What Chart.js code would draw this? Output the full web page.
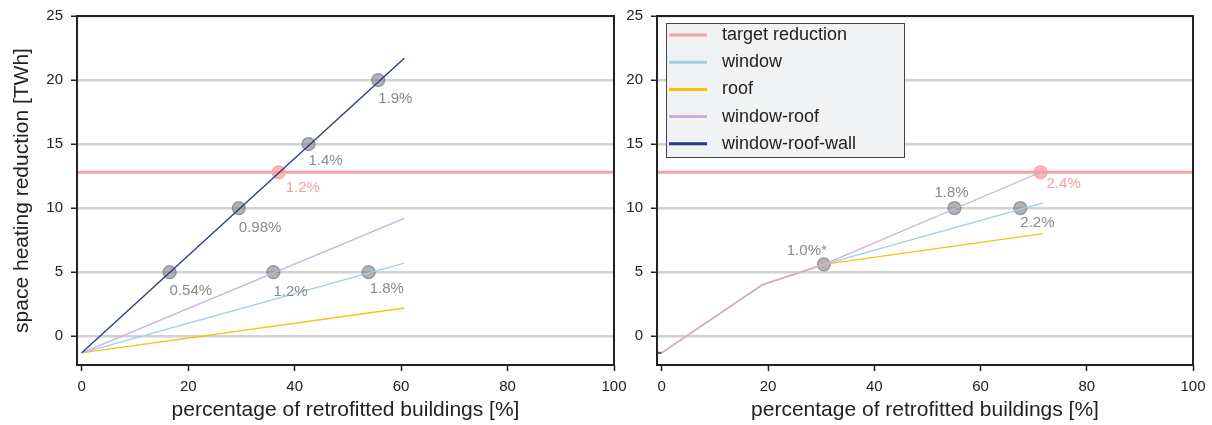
<!DOCTYPE html>
<html><head><meta charset="utf-8">
<script src="https://cdn.jsdelivr.net/npm/chart.js@4.4.0/dist/chart.umd.min.js"></script>
<style>
html,body{margin:0;padding:0;background:#fff;width:1212px;height:425px;overflow:hidden}
#c1{position:absolute;left:0;top:0}
#c2{position:absolute;left:620px;top:0}
</style></head><body>
<canvas id="c1" width="640" height="425"></canvas>
<canvas id="c2" width="592" height="425"></canvas>
<script>
// ---------- data ----------
const xTicks = [0, 20, 40, 60, 80, 100];
const yTicks = [0, 5, 10, 15, 20, 25];
const X_MIN = -0.9, X_MAX = 100;
const Y_MIN = -2.25, Y_MAX = 25;
const xTitle = 'percentage of retrofitted buildings [%]';
const yTitle = 'space heating reduction [TWh]';

const seriesNames = ['target reduction', 'window', 'roof', 'window-roof', 'window-roof-wall'];
const TARGET = 12.8;

// left panel lines
const leftX = [0, 60.6];
const leftWindow = [-1.3, 5.7];
const leftRoof = [-1.3, 2.2];
const leftWindowRoof = [-1.3, 9.2];
const leftWindowRoofWall = [-1.3, 21.7];

// left panel markers
const leftPtX = [16.5, 29.5, 42.6, 55.7, 36.0, 53.9];
const leftPtY = [5, 10, 15, 20, 5, 5];
const leftPtLabels = ['0.54%', '0.98%', '1.4%', '1.9%', '1.2%', '1.8%'];
const leftTargetPtX = [37.0];
const leftTargetPtY = [12.8];
const leftTargetLabels = ['1.2%'];

// right panel lines
const rightWindowX = [0, 18.9, 30.5, 71.8];
const rightWindow = [-1.3, 4.0, 5.6, 10.4];
const rightRoofX = [0, 18.9, 30.5, 71.8];
const rightRoof = [-1.3, 4.0, 5.6, 8.0];
const rightWindowRoofX = [0, 18.9, 30.5, 71.3];
const rightWindowRoof = [-1.3, 4.0, 5.6, 12.8];
const rightStubX = [-0.9, 0];
const rightStub = [-1.3, -1.3];

// right panel markers
const rightPtX = [30.5, 55.1, 67.5];
const rightPtY = [5.6, 10, 10];
const rightPtLabels = ['1.0%*', '1.8%', '2.2%'];
const rightTargetPtX = [71.3];
const rightTargetPtY = [12.8];
const rightTargetLabels = ['2.4%'];

// ---------- styles ----------
const FONT = '"Liberation Sans", Arial, sans-serif';
const colors = ['#f5a3a3', '#a3cde6', '#fdbf12', '#cbb0da', '#25368f'];
const SHARED = '#cdb2b6';
const GREY_TXT = '#8a8a8a';
const PINK_TXT = '#f4a0a0';
// label pixel offsets [dx, dy, align]
const leftPtOff = [[0,19,'left'],[0,20,'left'],[0,17,'left'],[0,19,'left'],[0,20,'left'],[1,17,'left']];
const leftTargetOff = [[7,16,'left']];
const rightPtOff = [[3,-14,'right'],[-3,-15,'center'],[0,15,'left']];
const rightTargetOff = [[6,12,'left']];

const pts = (xs, ys) => xs.map((x, i) => ({x, y: ys[i]}));

function lineDs(label, xs, ys, color, width, shared) {
  const ds = {label, data: pts(xs, ys), showLine: true, borderColor: color, backgroundColor: color,
    borderWidth: width, pointRadius: 0, pointHoverRadius: 0, fill: false, tension: 0};
  if (shared) ds.segment = {borderColor: c => c.p1DataIndex <= 2 ? SHARED : color};
  return ds;
}
function markerDs(xs, ys, fill, border) {
  return {label: '_m', data: pts(xs, ys), showLine: false, pointRadius: 6.5, pointHoverRadius: 6.5,
    backgroundColor: fill, borderColor: border, borderWidth: 1.2};
}

function scalesCfg(yWidth, showYTitle) {
  return {
    x: {type: 'linear', min: X_MIN, max: X_MAX,
      afterBuildTicks: s => { s.ticks = xTicks.map(v => ({value: v})); },
      afterFit: s => { s.height = 60; s.paddingLeft = 0; s.paddingRight = 0; },
      grid: {display: true, drawOnChartArea: false, drawTicks: true, tickLength: 6, tickColor: '#222', tickWidth: 1.5},
      border: {display: false},
      ticks: {color: '#222', font: {family: FONT, size: 15}, padding: 7, maxRotation: 0, autoSkip: false},
      title: {display: true, text: xTitle, color: '#222', font: {family: FONT, size: 21}, padding: {top: 4, bottom: 2}}
    },
    y: {type: 'linear', min: Y_MIN, max: Y_MAX,
      afterBuildTicks: s => { s.ticks = yTicks.map(v => ({value: v})); },
      afterFit: s => { s.width = yWidth; s.paddingTop = 0; s.paddingBottom = 0; },
      grid: {color: '#d2d2d2', lineWidth: 2.5, drawTicks: true, tickLength: 6, tickColor: '#222', tickWidth: 1.5},
      border: {display: false},
      ticks: {color: '#222', font: {family: FONT, size: 15}, padding: 8, autoSkip: false},
      title: {display: showYTitle, text: yTitle, color: '#222', font: {family: FONT, size: 21}, padding: {top: 10, bottom: 0}}
    }
  };
}

const framePlugin = {
  id: 'frame',
  afterDraw(chart) {
    const {ctx, chartArea: a} = chart;
    ctx.save();
    ctx.strokeStyle = '#222'; ctx.lineWidth = 2;
    ctx.strokeRect(a.left, a.top, a.right - a.left, a.bottom - a.top);
    ctx.restore();
  }
};
const labelPlugin = {
  id: 'lbl',
  afterDatasetsDraw(chart, args, opts) {
    const {ctx, scales: {x, y}} = chart;
    ctx.save();
    ctx.font = '15px ' + FONT; ctx.textBaseline = 'middle';
    (opts.items || []).forEach(it => {
      ctx.fillStyle = it.color; ctx.textAlign = it.align;
      ctx.fillText(it.text, x.getPixelForValue(it.x) + it.dx, y.getPixelForValue(it.y) + it.dy);
    });
    ctx.restore();
  }
};
const legendPlugin = {
  id: 'boxlegend',
  afterDraw(chart, args, opts) {
    if (!opts.show) return;
    const {ctx, chartArea: a} = chart;
    const bx = a.left + 9, by = a.top + 7, bw = 238, bh = 134;
    ctx.save();
    ctx.fillStyle = 'rgba(240,241,243,0.95)';
    ctx.fillRect(bx, by, bw, bh);
    ctx.strokeStyle = '#444'; ctx.lineWidth = 1;
    ctx.strokeRect(bx + 0.5, by + 0.5, bw, bh);
    ctx.font = '18px ' + FONT; ctx.textBaseline = 'middle'; ctx.textAlign = 'left';
    seriesNames.forEach((n, i) => {
      const yy = by + 12 + i * 27.2;
      ctx.strokeStyle = colors[i]; ctx.lineWidth = 3;
      ctx.beginPath(); ctx.moveTo(bx + 3, yy); ctx.lineTo(bx + 41, yy); ctx.stroke();
      ctx.fillStyle = '#222';
      ctx.fillText(n, bx + 56, yy);
    });
    ctx.restore();
  }
};

function mkLabels(xs, ys, texts, offs, color) {
  return xs.map((x, i) => ({x, y: ys[i], text: texts[i], dx: offs[i][0], dy: offs[i][1], align: offs[i][2], color}));
}

Chart.defaults.animation = false;

new Chart(document.getElementById('c1'), {
  type: 'scatter',
  data: {datasets: [
    lineDs(seriesNames[4], leftX, leftWindowRoofWall, colors[4], 1.3),
    lineDs(seriesNames[3], leftX, leftWindowRoof, colors[3], 1.3),
    lineDs(seriesNames[1], leftX, leftWindow, colors[1], 1.3),
    lineDs(seriesNames[2], leftX, leftRoof, colors[2], 1.3),
    lineDs(seriesNames[0], [X_MIN, X_MAX], [TARGET, TARGET], colors[0], 3),
    markerDs(leftTargetPtX, leftTargetPtY, 'rgba(245,160,160,0.75)', 'rgba(240,150,150,0.75)'),
    markerDs(leftPtX, leftPtY, 'rgba(128,128,128,0.6)', 'rgba(105,105,105,0.6)')
  ]},
  options: {
    responsive: false, devicePixelRatio: 1, animation: false,
    layout: {padding: {left: 0, right: 26, top: 16, bottom: 0}},
    scales: scalesCfg(77, true),
    plugins: {
      legend: {display: false}, tooltip: {enabled: false},
      lbl: {items: mkLabels(leftPtX, leftPtY, leftPtLabels, leftPtOff, GREY_TXT)
        .concat(mkLabels(leftTargetPtX, leftTargetPtY, leftTargetLabels, leftTargetOff, PINK_TXT))},
      boxlegend: {show: false}
    }
  },
  plugins: [labelPlugin, framePlugin, legendPlugin]
});

new Chart(document.getElementById('c2'), {
  type: 'scatter',
  data: {datasets: [
    lineDs(seriesNames[3], rightWindowRoofX, rightWindowRoof, colors[3], 1.3, true),
    lineDs(seriesNames[1], rightWindowX, rightWindow, colors[1], 1.3, true),
    lineDs(seriesNames[2], rightRoofX, rightRoof, colors[2], 1.3, true),
    lineDs('stub', rightStubX, rightStub, '#555555', 2),
    lineDs(seriesNames[0], [X_MIN, X_MAX], [TARGET, TARGET], colors[0], 3),
    markerDs(rightTargetPtX, rightTargetPtY, 'rgba(245,160,160,0.75)', 'rgba(240,150,150,0.75)'),
    markerDs(rightPtX, rightPtY, 'rgba(128,128,128,0.6)', 'rgba(105,105,105,0.6)')
  ]},
  options: {
    responsive: false, devicePixelRatio: 1, animation: false,
    layout: {padding: {left: 0, right: 19, top: 16, bottom: 0}},
    scales: scalesCfg(37, false),
    plugins: {
      legend: {display: false}, tooltip: {enabled: false},
      lbl: {items: mkLabels(rightPtX, rightPtY, rightPtLabels, rightPtOff, GREY_TXT)
        .concat(mkLabels(rightTargetPtX, rightTargetPtY, rightTargetLabels, rightTargetOff, PINK_TXT))},
      boxlegend: {show: true}
    }
  },
  plugins: [labelPlugin, framePlugin, legendPlugin]
});
</script>
</body></html>
